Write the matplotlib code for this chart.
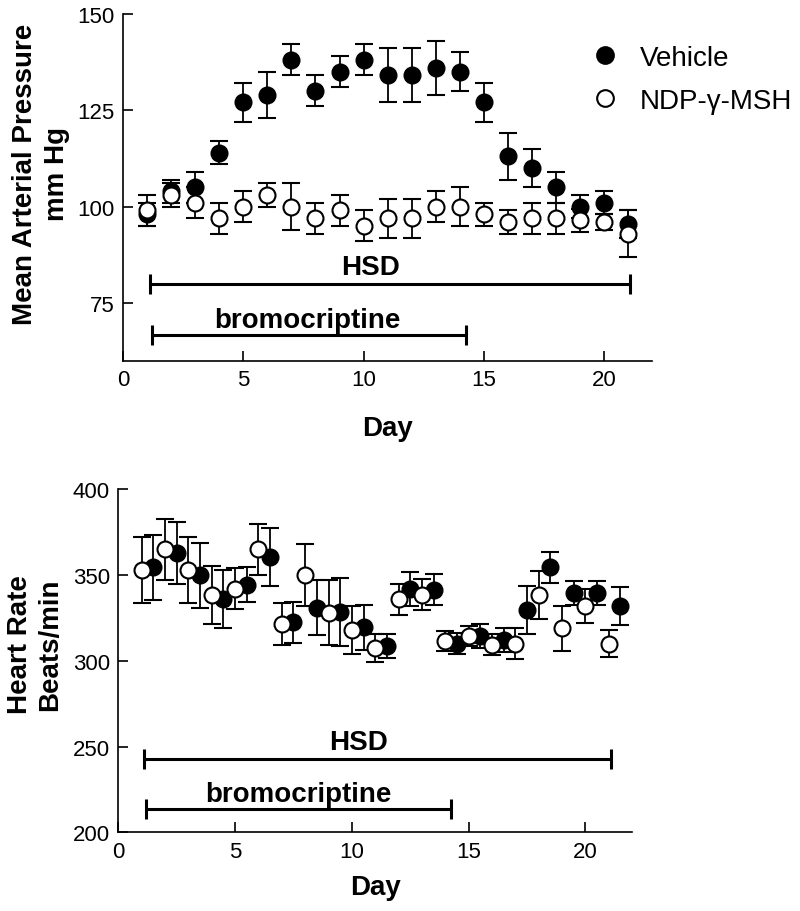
import matplotlib.pyplot as plt
from matplotlib.lines import Line2D

plt.rcParams['font.family'] = ['Liberation Sans', 'DejaVu Sans']

# Mean arterial pressure (mm Hg), days 1-21
map_days = [1, 2, 3, 4, 5, 6, 7, 8, 9, 10, 11, 12, 13, 14, 15, 16, 17, 18, 19, 20, 21]
map_vehicle = [98, 104, 105, 114, 127, 129, 138, 130, 135, 138, 134, 134, 136, 135, 127, 113, 110, 105, 100, 101, 95.5]
map_vehicle_err = [3, 3, 4, 3, 5, 6, 4, 4, 4, 4, 7, 7, 7, 5, 5, 6, 5, 4, 3, 3, 3.5]
map_ndp = [99, 103, 101, 97, 100, 103, 100, 97, 99, 95, 97, 97, 100, 100, 98, 96, 97, 97, 96.5, 96, 93]
map_ndp_err = [4, 3, 4, 4, 4, 3, 6, 4, 4, 4, 5, 5, 4, 5, 3, 3, 4, 4, 3, 2, 6]

# Heart rate (beats/min); vehicle plotted half a day later than NDP
hr_days_ndp = [1, 2, 3, 4, 5, 6, 7, 8, 9, 10, 11, 12, 13, 14, 15, 16, 17, 18, 19, 20, 21]
hr_days_vehicle = [1.5, 2.5, 3.5, 4.5, 5.5, 6.5, 7.5, 8.5, 9.5, 10.5, 11.5, 12.5, 13.5, 14.5,
                   15.5, 16.5, 17.5, 18.5, 19.5, 20.5, 21.5]
hr_ndp = [353, 365, 353, 338.5, 342, 365, 321.5, 350, 328, 318, 307.5, 336, 338.5, 311.5,
          314.5, 309.5, 310, 338.5, 319, 332, 310]
hr_ndp_err = [19, 18, 19, 17, 12, 15, 12, 18, 19, 14, 8, 9, 9, 6, 6, 6, 9, 14, 13, 10, 8]
hr_vehicle = [354.5, 363, 350, 336, 344.5, 360.5, 322.5, 331, 328.5, 319.5, 308.5, 342, 341.5, 310,
              314.5, 312, 329.5, 354.5, 339.5, 339.5, 332]
hr_vehicle_err = [19, 18, 19, 17, 10, 17, 12, 16, 20, 13, 7, 10, 9, 6, 7, 7, 14, 9, 7, 7, 11]

# treatment periods (days)
hsd_period = [1.1, 21.1]
bromo_period = [1.2, 14.25]

fig = plt.figure(figsize=(8, 9.12), dpi=100)
ax1 = fig.add_axes([0.154, 0.603, 0.661, 0.381])
ax2 = fig.add_axes([0.148, 0.0863, 0.642, 0.376])

mk = dict(markersize=11.5, markeredgewidth=1.5, markeredgecolor='black', ecolor='black',
          elinewidth=1.3, capsize=6.5, capthick=1.3, linestyle='none')


def period_bar(ax, period, y):
    mid = (period[0] + period[1]) / 2
    ax.errorbar(mid, y, xerr=(period[1] - period[0]) / 2, color='black', lw=2.2,
                capsize=7, capthick=2.2)


def style(ax):
    for s in ['top', 'right']:
        ax.spines[s].set_visible(False)
    for s in ['left', 'bottom']:
        ax.spines[s].set_linewidth(1.2)
    ax.tick_params(direction='in', length=7, width=1.2, labelsize=16, pad=6)
    ax.set_xlim(0, 22)
    ax.set_xticks([0, 5, 10, 15, 20])


# top: mean arterial pressure
ax1.errorbar(map_days, map_vehicle, yerr=map_vehicle_err, marker='o', markerfacecolor='black', zorder=3, **mk)
ax1.errorbar(map_days, map_ndp, yerr=map_ndp_err, marker='o', markerfacecolor='white', zorder=4, **mk)

period_bar(ax1, hsd_period, 80)
period_bar(ax1, bromo_period, 66.7)
ax1.annotate('HSD', (10.3, 80), xytext=(0, 7), textcoords='offset points', ha='center',
             va='baseline', fontsize=20, fontweight='bold')
ax1.annotate('bromocriptine', (7.65, 66.7), xytext=(0, 6), textcoords='offset points', ha='center',
             va='baseline', fontsize=20, fontweight='bold')

style(ax1)
ax1.set_ylim(60, 150)
ax1.set_yticks([75, 100, 125, 150])
ax1.set_ylabel('Mean Arterial Pressure\nmm Hg', fontsize=20, fontweight='bold', linespacing=1.3)
ax1.yaxis.set_label_coords(-0.10, 0.54)
ax1.set_xlabel('Day', fontsize=20, fontweight='bold', va='top')
ax1.xaxis.set_label_coords(0.5, -0.155)

handles = [Line2D([], [], marker='o', ls='none', markersize=12, markerfacecolor='black',
                  markeredgecolor='black', markeredgewidth=1.5),
           Line2D([], [], marker='o', ls='none', markersize=12, markerfacecolor='white',
                  markeredgecolor='black', markeredgewidth=1.5)]
ax1.legend(handles, ['Vehicle', 'NDP-\u03b3-MSH'], loc='upper left', bbox_to_anchor=(0.885, 0.909),
           frameon=False, fontsize=20, handlelength=1.0, handletextpad=0.76, labelspacing=0.6,
           borderpad=0, borderaxespad=0)

# bottom: heart rate
ax2.errorbar(hr_days_vehicle, hr_vehicle, yerr=hr_vehicle_err, marker='o', markerfacecolor='black', zorder=3, **mk)
ax2.errorbar(hr_days_ndp, hr_ndp, yerr=hr_ndp_err, marker='o', markerfacecolor='white', zorder=4, **mk)

period_bar(ax2, hsd_period, 242.7)
period_bar(ax2, bromo_period, 213.5)
ax2.annotate('HSD', (10.3, 242.7), xytext=(0, 7), textcoords='offset points', ha='center',
             va='baseline', fontsize=20, fontweight='bold')
ax2.annotate('bromocriptine', (7.7, 213.5), xytext=(0, 6), textcoords='offset points', ha='center',
             va='baseline', fontsize=20, fontweight='bold')

style(ax2)
ax2.set_ylim(200, 400)
ax2.set_yticks([200, 250, 300, 350, 400])
ax2.set_ylabel('Heart Rate\nBeats/min', fontsize=20, fontweight='bold', linespacing=1.2)
ax2.yaxis.set_label_coords(-0.108, 0.55)
ax2.set_xlabel('Day', fontsize=20, fontweight='bold', va='top')
ax2.xaxis.set_label_coords(0.5, -0.123)

fig.savefig('out.png', dpi=100)
